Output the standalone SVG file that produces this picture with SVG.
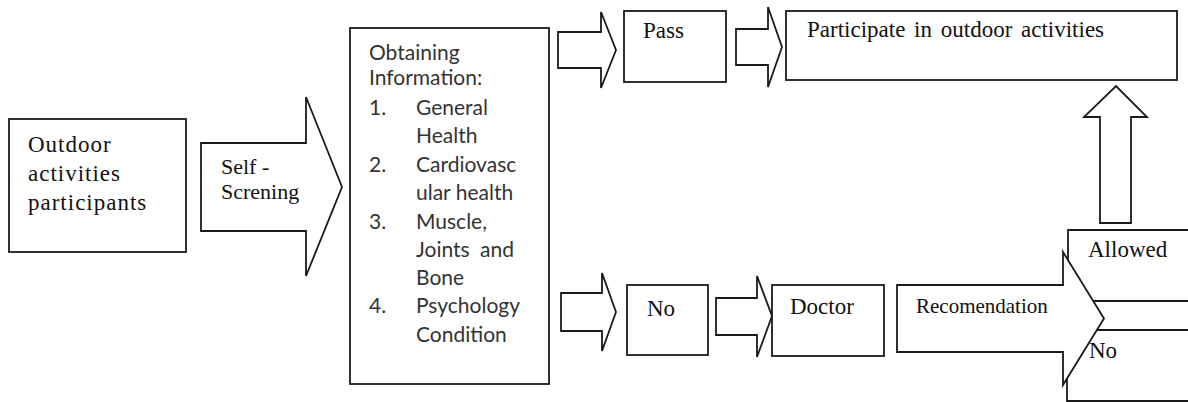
<svg xmlns="http://www.w3.org/2000/svg" width="1188" height="402" viewBox="0 0 1188 402">
<style>
.box{fill:#fff;stroke:#1a1a1a;stroke-width:1.8}
.edge{fill:none;stroke:#1a1a1a;stroke-width:1.8}
.arr{fill:#fff;stroke:#1a1a1a;stroke-width:1.8;stroke-linejoin:miter}
.t{font-family:"Liberation Serif","Times New Roman",serif;font-size:23px;fill:#111}
.s{font-family:Lato,"Liberation Sans",sans-serif;font-size:21px;fill:#333}
</style>
<rect width="1188" height="402" fill="#fff"/>
<g id="connectors">
<polygon class="arr" points="201,143 306,143 306,97 342,187 306,276 306,231 201,231"/>
<polygon class="arr" points="558,32 601,32 601,12 616,50 601,88 601,68 558,68"/>
<polygon class="arr" points="736,29 768,29 768,7 782,47 768,87 768,65 736,65"/>
<polygon class="arr" points="561,293 602,293 602,273 616,312 602,351 602,331 561,331"/>
<polygon class="arr" points="716,298 757,298 757,276 772,316 757,357 757,335 716,335"/>
<polygon class="arr" points="897,285 1063,285 1063,252 1104,318.5 1063,385 1063,352 897,352"/>
<polygon class="arr" points="1100,223 1100,117 1084,117 1116,86 1147,117 1131,117 1131,223"/>
</g>
<g id="participants">
<rect class="box" x="9" y="119" width="177" height="133"/>
<text class="t" letter-spacing="1" x="28" y="152">Outdoor</text>
<text class="t" letter-spacing="1" x="28" y="181">activities</text>
<text class="t" letter-spacing="1" x="28" y="210">participants</text>
</g>
<g id="self-screening-label">
<text class="t" font-size="22" x="221" y="174" style="font-size:22px">Self -</text>
<text class="t" x="221" y="199" style="font-size:22px">Screning</text>
</g>
<g id="information">
<rect class="box" x="350" y="28" width="199" height="356"/>
<text class="s" x="369" y="60">Obtaining</text>
<text class="s" x="369" y="85">Information:</text>
<text class="s" x="369" y="115">1.</text><text class="s" x="416" y="115">General</text>
<text class="s" x="416" y="143">Health</text>
<text class="s" x="369" y="172">2.</text><text class="s" x="416" y="172">Cardiovasc</text>
<text class="s" x="416" y="200">ular health</text>
<text class="s" x="369" y="229">3.</text><text class="s" x="416" y="229">Muscle,</text>
<text class="s" x="416" y="257" word-spacing="5">Joints and</text>
<text class="s" x="416" y="285">Bone</text>
<text class="s" x="369" y="313">4.</text><text class="s" x="416" y="313">Psychology</text>
<text class="s" x="416" y="342">Condition</text>
</g>
<g id="pass">
<rect class="box" x="624" y="11" width="102" height="71"/>
<text class="t" x="643" y="38">Pass</text>
</g>
<g id="participate">
<rect class="box" x="786" y="11" width="391" height="69"/>
<text class="t" x="807" y="37" word-spacing="3">Participate in outdoor activities</text>
</g>
<g id="no">
<rect class="box" x="627" y="285" width="81" height="70"/>
<text class="t" x="647" y="316">No</text>
</g>
<g id="doctor">
<rect class="box" x="772" y="285" width="112" height="71"/>
<text class="t" x="790" y="314">Doctor</text>
</g>
<g id="recomendation-label">
<text class="t" x="916" y="313" style="font-size:21px">Recomendation</text>
</g>
<g id="allowed">
<path class="edge" d="M1068,260 V230 H1192 M1093,301 H1192"/>
<text class="t" x="1088" y="257">Allowed</text>
</g>
<g id="no-2">
<path class="edge" d="M1097,330 H1192 M1067,378.5 V401 H1192"/>
<text class="t" x="1089" y="358">No</text>
</g>
</svg>
